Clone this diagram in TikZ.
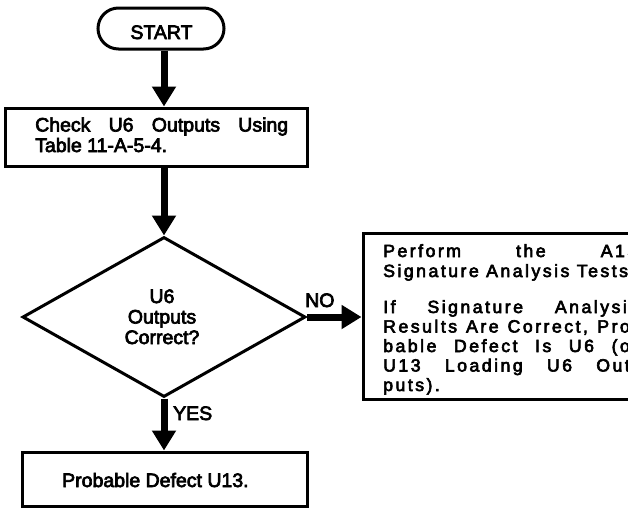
\documentclass[tikz,border=0pt]{standalone}
\usepackage{fontspec}
\setmainfont{Liberation Sans}[FakeBold=3.5]
\newfontfamily\mfont{Liberation Sans}[FakeBold=3.5]
\newfontfamily\rfont{Liberation Sans}[FakeBold=3.5,LetterSpace=14]
\usetikzlibrary{arrows.meta,shapes.geometric}
\begin{document}
\begin{tikzpicture}[x=1pt,y=-1pt,
  box/.style={draw,line width=3pt,inner sep=0pt},
  flow/.style={line width=7pt,-{Triangle[width=23pt,length=20pt]}},
  txt/.style={inner sep=0pt,anchor=base west,font=\mfont\fontsize{19.5}{22}\selectfont},
  ctxt/.style={inner sep=0pt,anchor=base,font=\mfont\fontsize{19.5}{22}\selectfont},
  rtxt/.style={inner sep=0pt,anchor=base west,font=\rfont\fontsize{17.7}{20}\selectfont},
  lbl/.style={inner sep=0pt,anchor=base west,font=\mfont\fontsize{19.5}{22}\selectfont}]
\useasboundingbox (0,0) rectangle (628,507);
\clip (0,0) rectangle (628,507);
% shapes
\node[box,rounded corners=20.5pt,minimum width=126pt,minimum height=41pt] (start) at (161,28.5) {};
\node[ctxt] (startt) at (161.5,39) {START};
\node[box,minimum width=302pt,minimum height=58pt] (chk) at (156,137) {};
\node[txt] (chk1) at (35,131.5) {\makebox[253pt][s]{Check U6 Outputs Using}};
\node[txt] (chk2) at (35,152) {Table 11-A-5-4.};
\node[draw,line width=3pt,diamond,aspect=1.77,inner sep=0pt,minimum width=283pt,minimum height=160pt] (dia) at (164,317) {};
\node[ctxt] (d1) at (162,303) {U6};
\node[ctxt] (d2) at (162,323.5) {Outputs};
\node[ctxt] (d3) at (162,344) {Correct?};
\node[box,minimum width=292pt,minimum height=166pt] (res) at (509,316) {};
\node[rtxt] (r1) at (383,257) {\makebox[254pt][s]{Perform the A15}};
\node[rtxt] (r2) at (383,277) {Signature Analysis Tests};
\node[rtxt] (r3) at (383,313) {\makebox[255pt][s]{If Signature Analysis}};
\node[rtxt] (r4) at (383,332.5) {\makebox[255pt][s]{Results Are Correct, Pro-}};
\node[rtxt] (r5) at (383,352) {\makebox[255pt][s]{bable Defect Is U6 (or}};
\node[rtxt] (r6) at (383,371.5) {\makebox[255pt][s]{U13 Loading U6 Out-}};
\node[rtxt] (r7) at (383,391) {puts).};
\node[box,minimum width=285pt,minimum height=54pt] (prob) at (164.5,479) {};
\node[txt] (probt) at (62,487) {Probable Defect U13.};
% connectors
\draw[flow] (start.south -| dia.north) -- (chk.north -| dia.north);
\draw[flow] (chk.south -| dia.north) -- (dia.north);
\draw[flow] (dia.east) -- (res.west |- dia.east);
\draw[flow] (dia.south) -- (prob.north -| dia.south);
\node[lbl] (no) at (305,307) {NO};
\node[lbl] (yes) at (173,420) {YES};
\end{tikzpicture}
\end{document}
